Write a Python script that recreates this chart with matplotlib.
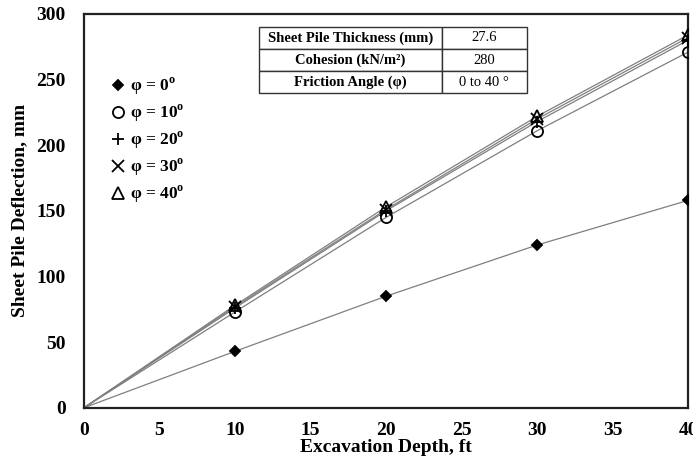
import numpy as np
import matplotlib
matplotlib.use('Agg')
import matplotlib.pyplot as plt

# Times-like bold fonts
plt.rcParams['font.family'] = ['Liberation Serif', 'DejaVu Serif']
plt.rcParams['font.weight'] = 'bold'
plt.rcParams['mathtext.fontset'] = 'custom'
plt.rcParams['mathtext.rm'] = 'Liberation Serif:bold'
plt.rcParams['mathtext.bf'] = 'Liberation Serif:bold'

# data
depth = [10, 20, 30, 40]
phi_0 = [43, 85, 124, 158]
phi_10 = [73, 145, 211, 271]
phi_20 = [76, 150, 218, 280]
phi_30 = [77, 151, 220, 282]
phi_40 = [78, 153, 222, 284]

series_labels = ['φ = 0$^\\mathrm{o}$', 'φ = 10$^\\mathrm{o}$', 'φ = 20$^\\mathrm{o}$',
                 'φ = 30$^\\mathrm{o}$', 'φ = 40$^\\mathrm{o}$']
x_ticks = [0, 5, 10, 15, 20, 25, 30, 35, 40]
y_ticks = [0, 50, 100, 150, 200, 250, 300]

table_rows = [['Sheet Pile Thickness (mm)', '27.6'],
              ['Cohesion (kN/m²)', '280'],
              ['Friction Angle (φ)', '0 to 40 °']]

fig = plt.figure(figsize=(6.93, 4.65), dpi=100)
ax = fig.add_axes([0.121, 0.123, 0.872, 0.847])

all_series = [phi_0, phi_10, phi_20, phi_30, phi_40]
markers = ['D', 'o', '+', 'x', '^']
msizes = [5.5, 8, 9, 8, 8]

# lines start at the origin
for ys in all_series:
    ax.plot([0] + depth, [0] + ys, color='#7f7f7f', lw=0.9, zorder=2)

for ys, m, ms, lab in zip(all_series, markers, msizes, series_labels):
    if m in ('o', '^'):
        ax.plot(depth, ys, linestyle='none', marker=m, ms=ms, mfc='none',
                mec='black', mew=1.3, label=lab, zorder=3)
    else:
        ax.plot(depth, ys, linestyle='none', marker=m, ms=ms, color='black',
                mew=1.3, label=lab, zorder=3)

ax.set_xlim(0, 40)
ax.set_ylim(0, 300)
ax.set_xticks(x_ticks)
ax.set_yticks(y_ticks)
ax.tick_params(length=0, labelsize=14)
ax.tick_params(axis='x', pad=10)
ax.tick_params(axis='y', pad=13)
for lbl in ax.get_xticklabels() + ax.get_yticklabels():
    lbl.set_fontweight('bold')
for sp in ax.spines.values():
    sp.set_linewidth(1.6)
    sp.set_color('#222222')

ax.set_xlabel('Excavation Depth, ft', fontsize=14, fontweight='bold', labelpad=0)
ax.set_ylabel('Sheet Pile Deflection, mm', fontsize=14, fontweight='bold', labelpad=6)

leg = ax.legend(loc='upper left', bbox_to_anchor=(0.035, 0.86), frameon=False,
                fontsize=12.5, handlelength=0.7, handletextpad=0.35, labelspacing=0.32,
                borderaxespad=0)

# parameter table
tbl = ax.table(cellText=table_rows, colWidths=[0.683, 0.317], cellLoc='center',
               bbox=[0.290, 0.799, 0.443, 0.168])
tbl.auto_set_font_size(False)
for (r, c), cell in tbl.get_celld().items():
    cell.set_linewidth(1.0)
    cell.set_edgecolor('#333333')
    cell.get_text().set_fontsize(10.5)
    cell.get_text().set_fontweight('bold' if c == 0 else 'normal')

fig.savefig('out.png', dpi=100)
